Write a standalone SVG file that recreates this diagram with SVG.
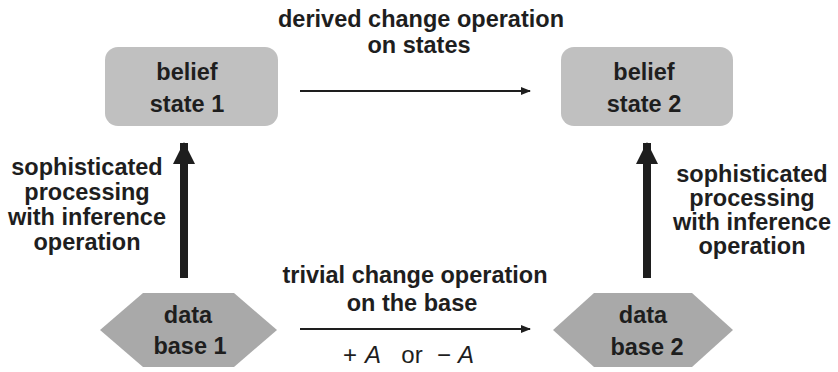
<svg xmlns="http://www.w3.org/2000/svg" width="838" height="372" viewBox="0 0 838 372">
  <style>
    text { font-family: "Liberation Sans", Arial, sans-serif; fill: #1e1e1e; text-anchor: middle; }
    .b { font-weight: bold; font-size: 23.5px; }
    .state { fill: #c0c0c0; }
    .base { fill: #a9a9a9; }
    .thin { stroke: #1e1e1e; stroke-width: 2; fill: none; }
    .thick { stroke: #1e1e1e; stroke-width: 8; fill: none; }
    .math { font-size: 24px; font-weight: normal; }
  </style>
  <defs>
    <marker id="small" markerUnits="userSpaceOnUse" markerWidth="10" markerHeight="8" refX="9" refY="4" orient="auto">
      <path d="M0,0 L10,4 L0,8 Z" fill="#1e1e1e"/>
    </marker>
    <marker id="big" markerUnits="userSpaceOnUse" markerWidth="22" markerHeight="22" refX="21" refY="11" orient="auto">
      <path d="M0,0 L22,11 L0,22 Z" fill="#1e1e1e"/>
    </marker>
  </defs>

  <g id="belief-state-1">
    <rect class="state" x="105" y="47" width="173" height="79" rx="13"/>
    <text class="b" x="187" y="80">belief</text>
    <text class="b" x="187" y="112">state 1</text>
  </g>

  <g id="belief-state-2">
    <rect class="state" x="561" y="47" width="172" height="79" rx="13"/>
    <text class="b" x="644" y="80">belief</text>
    <text class="b" x="644" y="112">state 2</text>
  </g>

  <g id="data-base-1">
    <polygon class="base" points="100,330 143,293 234,293 277,330 234,367 143,367"/>
    <text class="b" x="188" y="323">data</text>
    <text class="b" x="190" y="354">base 1</text>
  </g>

  <g id="data-base-2">
    <polygon class="base" points="553,330 594,293 692,293 733,330 692,367 594,367"/>
    <text class="b" x="643" y="323">data</text>
    <text class="b" x="647" y="355">base 2</text>
  </g>

  <g id="connectors">
    <line class="thin" x1="300" y1="91" x2="530" y2="91" marker-end="url(#small)"/>
    <line class="thin" x1="300" y1="329" x2="530" y2="329" marker-end="url(#small)"/>
    <line class="thick" x1="184" y1="278" x2="184" y2="143" marker-end="url(#big)"/>
    <line class="thick" x1="647" y1="278" x2="647" y2="143" marker-end="url(#big)"/>
  </g>

  <g id="labels">
    <text class="b" x="421" y="27">derived change operation</text>
    <text class="b" x="419" y="53">on states</text>

    <text class="b" x="415" y="283">trivial change operation</text>
    <text class="b" x="412" y="311">on the base</text>

    <text class="math" x="350" y="363">+</text>
    <text class="math" x="373" y="363" font-style="italic">A</text>
    <text class="math" x="412" y="363">or</text>
    <text class="math" x="444" y="363">−</text>
    <text class="math" x="466" y="363" font-style="italic">A</text>

    <text class="b" x="87" y="175">sophisticated</text>
    <text class="b" x="87" y="200">processing</text>
    <text class="b" x="87" y="225">with inference</text>
    <text class="b" x="87" y="250">operation</text>

    <text class="b" x="752" y="182">sophisticated</text>
    <text class="b" x="752" y="206">processing</text>
    <text class="b" x="752" y="230">with inference</text>
    <text class="b" x="752" y="254">operation</text>
  </g>
</svg>
